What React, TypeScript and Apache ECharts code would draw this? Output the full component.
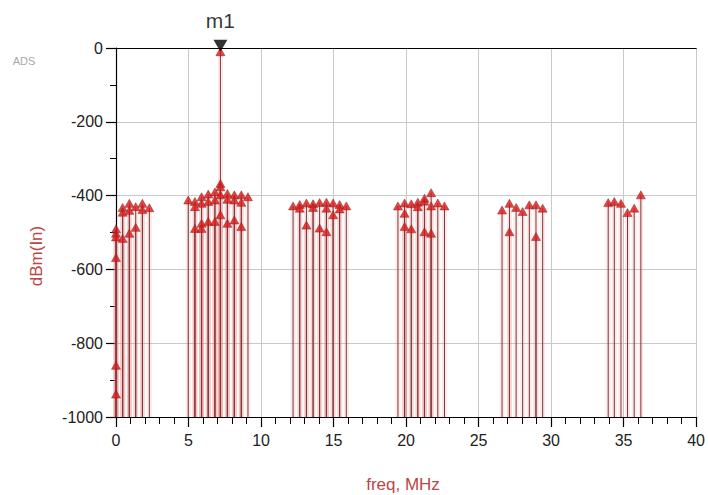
import React, { useEffect, useRef } from "react";
import * as echarts from "echarts";

// x-axis ticks (MHz) and y-axis ticks (dBm)
const freqTicks = [0, 5, 10, 15, 20, 25, 30, 35, 40];
const levelTicks = [-1000, -800, -600, -400, -200, 0];

// Spectral lines, grouped by band: frequency (MHz) and level (dBm)
const freqA = [0, 0, 0, 0, 0, 0, 0.46, 0.46, 0.46, 0.92, 0.92, 0.92, 1.36, 1.36, 1.82, 1.82, 2.3];
const dbmA = [-490, -502, -512, -568, -860, -938, -432, -445, -516, -421, -440, -502, -430, -486, -421, -438, -433];

const freqB = [4.98, 5.44, 5.44, 5.44, 5.9, 5.9, 5.9, 5.9, 6.36, 6.36, 6.36, 6.82, 6.82, 6.82, 7.2, 7.2, 7.2, 7.2, 7.2, 7.68, 7.68, 7.68, 8.16, 8.16, 8.16, 8.64, 8.64, 8.64, 9.1];
const dbmB = [-412, -416, -430, -489, -403, -421, -475, -489, -396, -416, -470, -390, -412, -470, -10, -367, -376, -398, -452, -394, -410, -475, -398, -412, -466, -398, -418, -484, -403];

const freqC = [12.21, 12.67, 12.67, 13.13, 13.13, 13.59, 13.59, 14.04, 14.04, 14.51, 14.51, 14.51, 14.97, 14.97, 15.42, 15.42, 15.88];
const dbmC = [-428, -424, -434, -420, -480, -422, -432, -419, -488, -418, -434, -498, -420, -452, -424, -436, -428];

const freqD = [19.44, 19.9, 19.9, 19.9, 20.36, 20.36, 20.81, 20.81, 21.27, 21.27, 21.27, 21.73, 21.73, 21.73, 22.19, 22.65];
const dbmD = [-428, -420, -448, -484, -422, -490, -418, -430, -415, -407, -498, -392, -428, -502, -420, -428];

const freqE = [26.62, 27.13, 27.13, 27.59, 28.04, 28.5, 28.96, 28.96, 29.42];
const dbmE = [-439, -421, -498, -432, -443, -425, -425, -511, -434];

const freqF = [33.94, 34.36, 34.82, 35.27, 35.73, 36.19];
const dbmF = [-419, -416, -421, -446, -434, -398];

// marker m1
const markerName = "m1";
const markerFreq = 7.2;
const markerLevel = -10;

const bands: [number[], number[]][] = [
  [freqA, dbmA],
  [freqB, dbmB],
  [freqC, dbmC],
  [freqD, dbmD],
  [freqE, dbmE],
  [freqF, dbmF],
];

const FONT = "Liberation Sans, Arial, sans-serif";
const NAME_COLOR = "#bd4544";

export default function App() {
  const ref = useRef<HTMLDivElement>(null);

  useEffect(() => {
    document.body.style.margin = "0";
    if (!ref.current) return;
    const chart = echarts.init(ref.current, undefined, { renderer: "svg" });

    const points: number[][] = [];
    bands.forEach(([f, v]) => f.forEach((x, i) => points.push([x, v[i]])));

    const yMin = levelTicks[0];
    const yMax = levelTicks[levelTicks.length - 1];
    const xMin = freqTicks[0];
    const xMax = freqTicks[freqTicks.length - 1];

    chart.setOption({
      animation: false,
      backgroundColor: "#ffffff",
      grid: { left: 116, right: 11, top: 48, bottom: 78, containLabel: false },
      xAxis: [
        {
          type: "value",
          min: xMin,
          max: xMax,
          interval: 5,
          position: "bottom",
          axisLine: { show: true, onZero: false, lineStyle: { color: "#000", width: 1.2 } },
          axisTick: { show: true, inside: false, length: 10, lineStyle: { color: "#000", width: 1.2 } },
          splitLine: { show: true, lineStyle: { color: "#c9c9c9", width: 1 } },
          axisLabel: { fontSize: 16, color: "#222", margin: 15, fontFamily: FONT },
        },
        {
          type: "value",
          min: xMin,
          max: xMax,
          position: "top",
          axisLine: { show: true, onZero: false, lineStyle: { color: "#000", width: 1.2 } },
          axisTick: { show: false },
          axisLabel: { show: false },
          splitLine: { show: false },
        },
        {
          type: "value",
          min: xMin,
          max: xMax,
          interval: 1,
          position: "bottom",
          axisLine: { show: false, onZero: false },
          axisTick: { show: true, inside: false, length: 7, lineStyle: { color: "#000", width: 1 } },
          axisLabel: { show: false },
          splitLine: { show: false },
        },
      ],
      yAxis: {
        type: "value",
        min: yMin,
        max: yMax,
        interval: 200,
        axisLine: { show: true, onZero: false, lineStyle: { color: "#000", width: 1.2 } },
        axisTick: { show: true, inside: false, length: 10, lineStyle: { color: "#000", width: 1.2 } },
        minorTick: { show: true, splitNumber: 2, length: 6, lineStyle: { color: "#000", width: 1 } },
        splitLine: { show: true, lineStyle: { color: "#c9c9c9", width: 1 } },
        axisLabel: {
          fontSize: 16,
          color: "#222",
          margin: 13,
          fontFamily: FONT,
          formatter: (v: number) => String(v),
        },
      },
      graphic: [
        {
          type: "text",
          x: 24,
          y: 61,
          style: { text: "ADS", fill: "#a8a8a8", font: "11px " + FONT, align: "center", verticalAlign: "middle" },
        },
        {
          type: "text",
          x: 36,
          y: 256,
          rotation: Math.PI / 2,
          style: { text: "dBm(In)", fill: NAME_COLOR, font: "17px " + FONT, align: "center", verticalAlign: "middle" },
        },
        {
          type: "text",
          x: 403,
          y: 484,
          style: { text: "freq, MHz", fill: NAME_COLOR, font: "17px " + FONT, align: "center", verticalAlign: "middle" },
        },
      ],
      series: [
        {
          type: "custom",
          name: "stems",
          xAxisIndex: 0,
          data: points,
          renderItem: (_params: any, api: any) => {
            const x = api.value(0);
            const y = api.value(1);
            const top = api.coord([x, y]);
            const bot = api.coord([x, yMin]);
            const shape = { x1: top[0], y1: top[1], x2: bot[0], y2: bot[1] };
            return {
              type: "group",
              children: [
                { type: "line", shape, style: { stroke: "rgba(235,120,120,0.16)", lineWidth: 5 } },
                { type: "line", shape, style: { stroke: "#7d3838", lineWidth: 1 } },
              ],
            };
          },
          z: 2,
        },
        {
          type: "scatter",
          name: "levels",
          xAxisIndex: 0,
          data: points,
          symbol: "triangle",
          symbolSize: [9, 8],
          itemStyle: { color: "#e01818", borderColor: "#8a1c1c", borderWidth: 0.6 },
          z: 3,
        },
        {
          type: "scatter",
          name: "marker",
          xAxisIndex: 0,
          clip: false,
          data: [[markerFreq, markerLevel]],
          symbol: "triangle",
          symbolRotate: 180,
          symbolSize: [14, 12],
          symbolOffset: [0, -6],
          itemStyle: { color: "#000" },
          z: 5,
        },
        {
          type: "scatter",
          name: "marker label",
          xAxisIndex: 0,
          clip: false,
          data: [[markerFreq, markerLevel]],
          symbolSize: 1,
          itemStyle: { color: "rgba(0,0,0,0)" },
          label: {
            show: true,
            position: "top",
            distance: 20,
            formatter: markerName,
            fontSize: 21,
            color: "#000",
            fontFamily: FONT,
          },
          z: 6,
        },
      ],
    });

    return () => chart.dispose();
  }, []);

  return <div ref={ref} style={{ width: 708, height: 495 }} />;
}
